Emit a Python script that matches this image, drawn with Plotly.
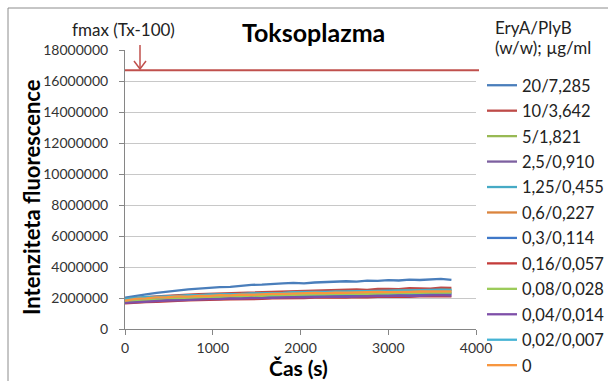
import plotly.graph_objects as go

# ---------------- data ----------------
time_s = [0, 120, 240, 360, 480, 600, 720, 840, 960, 1080, 1200, 1320, 1440, 1560, 1680, 1800,
          1920, 2040, 2160, 2280, 2400, 2520, 2640, 2760, 2880, 3000, 3120, 3240, 3360, 3480, 3600, 3720]

labels = ["20/7,285", "10/3,642", "5/1,821", "2,5/0,910", "1,25/0,455", "0,6/0,227",
          "0,3/0,114", "0,16/0,057", "0,08/0,028", "0,04/0,014", "0,02/0,007", "0"]

# values in millions (fluorescence intensity)
s_20 = [2.03, 2.15, 2.24, 2.33, 2.42, 2.50, 2.56, 2.60, 2.66, 2.70, 2.72, 2.78, 2.85, 2.86, 2.92, 2.95,
        2.97, 2.94, 3.00, 3.03, 3.04, 3.08, 3.06, 3.12, 3.10, 3.15, 3.13, 3.18, 3.16, 3.20, 3.24, 3.17]
s_10 = [1.92, 2.00, 2.05, 2.11, 2.13, 2.19, 2.21, 2.25, 2.27, 2.31, 2.32, 2.36, 2.36, 2.41, 2.41, 2.45,
        2.44, 2.48, 2.48, 2.51, 2.51, 2.54, 2.55, 2.53, 2.59, 2.58, 2.57, 2.63, 2.62, 2.61, 2.66, 2.65]
s_5 = [1.85, 1.92, 1.98, 2.00, 2.06, 2.07, 2.12, 2.13, 2.17, 2.18, 2.22, 2.22, 2.26, 2.26, 2.30, 2.30,
       2.34, 2.33, 2.37, 2.36, 2.40, 2.39, 2.43, 2.42, 2.45, 2.44, 2.48, 2.47, 2.50, 2.49, 2.53, 2.52]
s_25 = [1.75, 1.80, 1.85, 1.87, 1.92, 1.93, 1.97, 1.98, 2.02, 2.02, 2.06, 2.06, 2.10, 2.09, 2.13, 2.12,
        2.16, 2.15, 2.19, 2.18, 2.21, 2.20, 2.23, 2.23, 2.26, 2.25, 2.28, 2.27, 2.30, 2.29, 2.32, 2.31]
s_125 = [1.95, 2.02, 2.07, 2.08, 2.13, 2.14, 2.18, 2.18, 2.23, 2.23, 2.26, 2.26, 2.30, 2.30, 2.33, 2.33,
         2.37, 2.36, 2.39, 2.39, 2.42, 2.41, 2.45, 2.44, 2.47, 2.46, 2.49, 2.49, 2.52, 2.51, 2.54, 2.53]
s_06 = [1.80, 1.87, 1.93, 1.95, 2.01, 2.02, 2.07, 2.07, 2.12, 2.12, 2.16, 2.16, 2.20, 2.20, 2.24, 2.23,
        2.27, 2.26, 2.30, 2.29, 2.32, 2.32, 2.35, 2.34, 2.37, 2.36, 2.39, 2.38, 2.41, 2.40, 2.43, 2.42]
s_03 = [1.70, 1.76, 1.81, 1.83, 1.88, 1.89, 1.94, 1.94, 1.98, 1.98, 2.02, 2.02, 2.06, 2.05, 2.09, 2.08,
        2.12, 2.11, 2.14, 2.14, 2.17, 2.16, 2.19, 2.18, 2.21, 2.20, 2.23, 2.22, 2.25, 2.24, 2.27, 2.26]
s_016 = [1.65, 1.70, 1.74, 1.75, 1.80, 1.81, 1.85, 1.85, 1.89, 1.89, 1.92, 1.92, 1.95, 1.94, 1.98, 1.97,
         2.00, 1.99, 2.02, 2.01, 2.04, 2.03, 2.06, 2.04, 2.07, 2.06, 2.09, 2.07, 2.10, 2.09, 2.11, 2.10]
s_008 = [1.78, 1.84, 1.90, 1.92, 1.97, 1.98, 2.03, 2.03, 2.07, 2.07, 2.11, 2.11, 2.15, 2.14, 2.18, 2.17,
         2.21, 2.20, 2.23, 2.23, 2.26, 2.25, 2.28, 2.27, 2.30, 2.29, 2.32, 2.31, 2.34, 2.33, 2.36, 2.35]
s_004 = [1.68, 1.73, 1.78, 1.79, 1.84, 1.85, 1.89, 1.89, 1.93, 1.93, 1.97, 1.96, 2.00, 1.99, 2.02, 2.02,
         2.05, 2.04, 2.07, 2.06, 2.09, 2.08, 2.11, 2.10, 2.13, 2.12, 2.15, 2.13, 2.16, 2.15, 2.18, 2.16]
s_002 = [1.88, 1.95, 2.01, 2.03, 2.08, 2.09, 2.14, 2.14, 2.19, 2.19, 2.23, 2.23, 2.27, 2.27, 2.30, 2.30,
         2.33, 2.33, 2.36, 2.36, 2.39, 2.38, 2.41, 2.40, 2.44, 2.43, 2.46, 2.45, 2.48, 2.47, 2.50, 2.49]
s_0 = [1.83, 1.95, 1.98, 2.04, 2.05, 2.10, 2.09, 2.14, 2.13, 2.18, 2.17, 2.22, 2.21, 2.25, 2.26, 2.27,
       2.30, 2.29, 2.33, 2.31, 2.35, 2.34, 2.37, 2.36, 2.39, 2.38, 2.41, 2.40, 2.42, 2.41, 2.44, 2.43]

series = [s_20, s_10, s_5, s_25, s_125, s_06, s_03, s_016, s_008, s_004, s_002, s_0]

FMAX = 16700000  # fmax (Tx-100)
Y_MAX = 18000000
y_ticks = [0, 2000000, 4000000, 6000000, 8000000, 10000000, 12000000, 14000000, 16000000, 18000000]
x_ticks = [0, 1000, 2000, 3000, 4000]

colors = ["#4A7EBB", "#BE4B48", "#98B954", "#7D60A0", "#46AAC5", "#DB843D",
          "#3F78C8", "#C43C3A", "#9CCB5A", "#7E4FA8", "#45B3D4", "#F7963F"]

# ---------------- layout geometry (pixels) ----------------
W, H = 608, 381
L, R, T, B = 125, 132, 50, 52
PW, PH = W - L - R, H - T - B
FONT = "Lato, 'Liberation Sans', sans-serif"


def px(p):
    return (p - L) / PW


def py(p):
    return (H - B - p) / PH


fig = go.Figure()
for name, vals, c in zip(labels, series, colors):
    fig.add_trace(go.Scatter(
        x=time_s, y=[v * 1e6 for v in vals], mode="lines", name=name, legendgroup=name,
        line=dict(color=c, width=2.3)))

shapes = [
    # fmax line
    dict(type="line", xref="paper", yref="paper", x0=0, x1=px(479),
         y0=FMAX / Y_MAX, y1=FMAX / Y_MAX, line=dict(color="#C0504D", width=2)),
    # arrow shaft and head
    dict(type="line", xref="paper", yref="paper", x0=px(140), x1=px(140), y0=py(45), y1=py(69),
         line=dict(color="#C0504D", width=1.5)),
    dict(type="path", xref="paper", yref="paper",
         path=f"M {px(134)},{py(61)} L {px(140)},{py(69)} L {px(146)},{py(61)}",
         line=dict(color="#C0504D", width=1.5)),
    # chart border
    dict(type="rect", xref="paper", yref="paper", x0=px(8), x1=px(620), y0=py(395), y1=py(8),
         line=dict(color="#8C8C8C", width=1)),
]


def ann(text, x, y, size, color="#000000", angle=0, xanchor="center"):
    return dict(text=text, xref="paper", yref="paper", x=px(x), y=py(y), textangle=angle,
                xanchor=xanchor, yanchor="middle", showarrow=False,
                font=dict(size=size, color=color, family=FONT))


annotations = [
    ann("<b>Toksoplazma</b>", 313, 32, 25),
    ann("fmax (Tx-100)", 123, 30, 17, "#222222"),
    ann("<b>Intenziteta fluorescence</b>", 31, 197, 22, angle=-90),
    ann("<b>Čas (s)</b>", 298, 367, 21),
    ann("EryA/PlyB", 493, 27, 17, "#222222", xanchor="left"),
    ann("(w/w); µg/ml", 493, 47, 17, "#222222", xanchor="left"),
]

fig.update_layout(
    width=W, height=H,
    margin=dict(l=L, r=R, t=T, b=B, autoexpand=False),
    paper_bgcolor="white", plot_bgcolor="white",
    font=dict(family=FONT, size=14, color="#333333"),
    shapes=shapes, annotations=annotations,
    showlegend=True,
    legend=dict(
        xref="container", yref="container",
        x=482 / W, y=1 - 68 / H, xanchor="left", yanchor="top",
        font=dict(size=16.5, color="#222222"),
        tracegroupgap=1, bgcolor="rgba(0,0,0,0)", maxheight=600,
    ),
    xaxis=dict(range=[0, 4000], tickvals=x_ticks, ticktext=[str(v) for v in x_ticks],
               showgrid=False, zeroline=False, showline=True, linecolor="#868686", linewidth=1,
               ticks="outside", ticklen=5, tickcolor="#868686", ticklabelstandoff=1,
               tickfont=dict(size=14, color="#333333")),
    yaxis=dict(range=[0, Y_MAX], tickvals=y_ticks, ticktext=[str(v) for v in y_ticks],
               showgrid=True, gridcolor="#C8C8C8", gridwidth=1, zeroline=False,
               showline=True, linecolor="#868686", linewidth=1,
               ticks="outside", ticklen=5, tickcolor="#868686", ticklabelstandoff=8,
               tickfont=dict(size=14, color="#333333")),
)

fig.write_html("out.html")
